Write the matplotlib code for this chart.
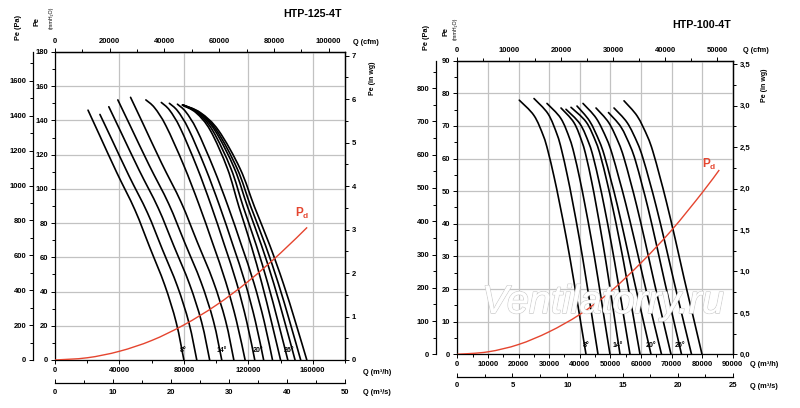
import matplotlib
matplotlib.use("Agg")
import matplotlib.pyplot as plt
import matplotlib.patheffects as pe
from matplotlib.path import Path
from matplotlib.patches import PathPatch
from matplotlib.ticker import MultipleLocator, FuncFormatter

plt.rcParams['font.family'] = ['Liberation Sans', 'DejaVu Sans']
plt.rcParams['font.weight'] = 'bold'
plt.rcParams['mathtext.fontset'] = 'custom'
plt.rcParams['mathtext.rm'] = 'Liberation Sans'

MM_PA = 9.80665     # Pa per mmH2O
MM_INWG = 25.4      # mmH2O per in wg
CFM = 1.699         # m3/h per cfm
M3S = 3600.0        # m3/h per m3/s

# ---------------- HTP-125-4T (Q m3/h, Pe mmH2O) ----------------
q125 = [
    [20500, 27640, 38350, 49660, 58880, 68100, 75240, 80000],
    [27900, 35110, 45930, 57350, 66660, 75980, 83190, 88000],
    [33400, 40910, 52180, 64070, 73780, 83480, 90990, 96000],
    [39000, 46740, 58350, 70610, 80600, 90600, 98340, 103500],
    [46900, 54590, 66130, 78310, 88240, 98180, 105870, 111000],
    [56400, 61820, 68900, 79810, 89230, 97800, 105990, 112640, 118000],
    [66000, 71100, 77770, 88040, 96910, 104980, 112690, 118950, 124000],
    [71000, 76150, 82880, 93230, 102180, 110310, 118090, 124410, 129500],
    [76000, 81190, 87980, 98420, 107450, 115650, 123500, 129870, 135000],
    [79000, 87540, 96450, 107060, 114200, 121700, 128410, 134330, 140000],
    [79200, 88340, 97880, 109240, 116880, 124910, 132090, 138430, 144500],
    [79400, 89140, 99310, 111420, 119560, 128120, 135780, 142530, 149000],
    [79500, 89720, 100380, 113080, 121620, 130600, 138630, 145710, 152500],
    [79600, 90340, 101540, 114880, 123860, 133290, 141730, 149170, 156300],
]
pe125 = [
    [146, 131.4, 109.5, 87.6, 65.7, 43.8, 21.9, 0],
    [143.5, 129.2, 107.6, 86.1, 64.6, 43.1, 21.5, 0],
    [148, 133.2, 111, 88.8, 66.6, 44.4, 22.2, 0],
    [152, 136.8, 114, 91.2, 68.4, 45.6, 22.8, 0],
    [153.5, 138.2, 115.1, 92.1, 69.1, 46.1, 23.0, 0],
    [152, 147.4, 136.8, 114, 91.2, 68.4, 45.6, 22.8, 0],
    [150.5, 146.0, 135.5, 112.9, 90.3, 67.7, 45.2, 22.6, 0],
    [150, 145.5, 135, 112.5, 90, 67.5, 45, 22.5, 0],
    [149.5, 145.0, 134.6, 112.1, 89.7, 67.3, 44.9, 22.4, 0],
    [149, 144.5, 134.1, 111.8, 89.4, 67.1, 44.7, 22.4, 0],
    [149, 144.5, 134.1, 111.8, 89.4, 67.1, 44.7, 22.4, 0],
    [149, 144.5, 134.1, 111.8, 89.4, 67.1, 44.7, 22.4, 0],
    [149, 144.5, 134.1, 111.8, 89.4, 67.1, 44.7, 22.4, 0],
    [149, 144.5, 134.1, 111.8, 89.4, 67.1, 44.7, 22.4, 0],
]
pd125_q = [0, 20000, 40000, 60000, 80000, 100000, 120000, 140000, 156500]
pd125_pe = [0, 1.3, 5.1, 11.4, 20.5, 32, 46, 62.5, 77.5]
ang125_q = [79600, 103500, 125700, 145300]
ang125_pe = [5.8, 5.8, 5.8, 5.8]
ang_txt = ['8°', '14°', '20°', '26°']

# ---------------- HTP-100-4T ----------------
q100 = [
    [20260, 25060, 28110, 29630, 31600, 33340, 35740, 37920, 39990, 42060],
    [25070, 29670, 32600, 34060, 35940, 37620, 39920, 42010, 43990, 45980],
    [29310, 33840, 36720, 38160, 40020, 41660, 43930, 45990, 47940, 49900],
    [33890, 38130, 40830, 42180, 43920, 45460, 47580, 49510, 51340, 53170],
    [35520, 40120, 43050, 44520, 46400, 48070, 50370, 52470, 54450, 56440],
    [37160, 42120, 45280, 46860, 48890, 50690, 53170, 55430, 57570, 59710],
    [39120, 43230, 46370, 48070, 50240, 52300, 55080, 57740, 60520, 63300],
    [41080, 45440, 48780, 50570, 52880, 55060, 58010, 60830, 63780, 66730],
    [45330, 49500, 52680, 54400, 56600, 58690, 61510, 64200, 67020, 69840],
    [49410, 53470, 56570, 58240, 60390, 62410, 65160, 67780, 70530, 73270],
    [51210, 55520, 58810, 60580, 62860, 65010, 67930, 70710, 73630, 76540],
    [54480, 58810, 62130, 63910, 66210, 68370, 71300, 74110, 77040, 79970],
]
pe100 = [
    [77.9, 73.2, 67.0, 62.3, 54.5, 46.7, 35.1, 23.4, 11.7, 0],
    [78.4, 73.7, 67.4, 62.7, 54.9, 47.0, 35.3, 23.5, 11.8, 0],
    [76.9, 72.3, 66.1, 61.5, 53.8, 46.1, 34.6, 23.1, 11.5, 0],
    [75.5, 71.0, 64.9, 60.4, 52.9, 45.3, 34.0, 22.7, 11.3, 0],
    [75.1, 70.6, 64.6, 60.1, 52.6, 45.1, 33.8, 22.5, 11.3, 0],
    [75.7, 71.2, 65.1, 60.6, 53.0, 45.4, 34.1, 22.7, 11.4, 0],
    [76.1, 71.5, 65.4, 60.9, 53.3, 45.7, 34.2, 22.8, 11.4, 0],
    [76.9, 72.3, 66.1, 61.5, 53.8, 46.1, 34.6, 23.1, 11.5, 0],
    [75.5, 71.0, 64.9, 60.4, 52.9, 45.3, 34.0, 22.7, 11.3, 0],
    [74.1, 69.7, 63.7, 59.3, 51.9, 44.5, 33.3, 22.2, 11.1, 0],
    [75.5, 71.0, 64.9, 60.4, 52.9, 45.3, 34.0, 22.7, 11.3, 0],
    [77.7, 73.0, 66.8, 62.2, 54.4, 46.6, 35.0, 23.3, 11.7, 0],
]
pd100_q = [0, 10000, 20000, 30000, 40000, 50000, 60000, 70000, 80000, 85600]
pd100_pe = [0, 0.75, 3.0, 6.9, 12.2, 19.2, 28.0, 38.0, 49.5, 56.5]
ang100_q = [41960, 52290, 63200, 72780]
ang100_pe = [2.85, 2.85, 2.85, 2.85]

RED = '#e5452f'
GRID = '#c2c2c2'
FS = 5.5

fig = plt.figure(figsize=(8, 4.08), dpi=100)


def fpos(x, y):
    return x / 800, 1 - y / 408


def intfmt(v, p):
    return '%d' % round(v)


def commafmt(v, p):
    return ('%.1f' % v).replace('.', ',')


def smooth_path(q, p):
    # bezier segments through the read points (Catmull-Rom handles)
    pts = list(zip(q, p))
    n = len(pts)
    verts = [pts[0]]
    codes = [Path.MOVETO]
    for i in range(n - 1):
        a = pts[i - 1] if i > 0 else pts[i]
        b = pts[i]
        c = pts[i + 1]
        d = pts[i + 2] if i + 2 < n else pts[i + 1]
        c1 = (b[0] + (c[0] - a[0]) / 6, b[1] + (c[1] - a[1]) / 6)
        c2 = (c[0] - (d[0] - b[0]) / 6, c[1] - (d[1] - b[1]) / 6)
        verts += [c1, c2, c]
        codes += [Path.CURVE4] * 3
    return Path(verts, codes)


def panel(x0, x1, y0, y1, qmax, pmax, curves_q, curves_pe, pdq, pdpe,
          angq, angpe, pdpos, st, pa_loc, s_loc, wgfmt):
    ax = fig.add_axes([x0 / 800, 1 - y1 / 408, (x1 - x0) / 800, (y1 - y0) / 408])
    ax.set_xlim(0, qmax)
    ax.set_ylim(0, pmax)
    ax.xaxis.set_major_locator(MultipleLocator(st['q'][0]))
    ax.xaxis.set_minor_locator(MultipleLocator(st['q'][1]))
    ax.yaxis.set_major_locator(MultipleLocator(st['p'][0]))
    ax.yaxis.set_minor_locator(MultipleLocator(st['p'][1]))
    ax.xaxis.set_major_formatter(FuncFormatter(intfmt))
    ax.yaxis.set_major_formatter(FuncFormatter(intfmt))
    ax.grid(True, which='major', color=GRID, lw=0.9)
    ax.set_axisbelow(True)
    ax.tick_params(which='both', direction='out', labelsize=FS, pad=2,
                   top=False, right=False, width=0.7)
    ax.tick_params(which='major', length=3)
    ax.tick_params(which='minor', length=2)
    for s in ax.spines.values():
        s.set_linewidth(0.9)

    for q, p in zip(curves_q, curves_pe):
        ax.add_patch(PathPatch(smooth_path(q, p), fill=False, edgecolor='black',
                               lw=1.2, capstyle='round', zorder=3))
    ax.add_patch(PathPatch(smooth_path(pdq, pdpe), fill=False, edgecolor=RED,
                           lw=1.0, zorder=4))
    for q, p, t in zip(angq, angpe, ang_txt):
        ax.text(q, p, t, fontsize=5, ha='center', va='center', zorder=5)
    ax.text(pdpos[0], pdpos[1], r'$\mathrm{P_d}$', color=RED, fontsize=8.5,
            ha='center', va='center', zorder=5)

    # Pa axis (outer left)
    pa = ax.secondary_yaxis(pa_loc, functions=(lambda y: y * MM_PA, lambda y: y / MM_PA))
    pa.yaxis.set_major_locator(MultipleLocator(st['pa'][0]))
    pa.yaxis.set_minor_locator(MultipleLocator(st['pa'][1]))
    pa.yaxis.set_major_formatter(FuncFormatter(intfmt))
    # in wg axis (right)
    wg = ax.secondary_yaxis('right', functions=(lambda y: y / MM_INWG, lambda y: y * MM_INWG))
    wg.yaxis.set_major_locator(MultipleLocator(st['wg'][0]))
    wg.yaxis.set_minor_locator(MultipleLocator(st['wg'][1]))
    wg.yaxis.set_major_formatter(FuncFormatter(wgfmt))
    # cfm axis (top)
    cf = ax.secondary_xaxis('top', functions=(lambda x: x / CFM, lambda x: x * CFM))
    cf.xaxis.set_major_locator(MultipleLocator(st['cfm'][0]))
    cf.xaxis.set_minor_locator(MultipleLocator(st['cfm'][1]))
    cf.xaxis.set_major_formatter(FuncFormatter(intfmt))
    # m3/s axis (below)
    ms = ax.secondary_xaxis(s_loc, functions=(lambda x: x / M3S, lambda x: x * M3S))
    ms.xaxis.set_major_locator(MultipleLocator(st['s'][0]))
    ms.xaxis.set_minor_locator(MultipleLocator(st['s'][1]))
    ms.xaxis.set_major_formatter(FuncFormatter(intfmt))
    for sec in (pa, wg, cf):
        sec.tick_params(which='both', direction='out', labelsize=FS, pad=2, width=0.7)
        sec.tick_params(which='major', length=3)
        sec.tick_params(which='minor', length=2)
        for s in sec.spines.values():
            s.set_linewidth(0.9)
    ms.tick_params(which='both', direction='in', labelsize=FS, pad=4, width=0.7)
    ms.tick_params(which='major', length=3)
    ms.tick_params(which='minor', length=2)
    for s in ms.spines.values():
        s.set_linewidth(0.9)
    return ax


panel(55, 345, 52, 360, 180000, 180, q125, pe125, pd125_q, pd125_pe,
      ang125_q, ang125_pe, (153600, 85.7),
      {'q': (40000, 20000), 'p': (20, 10), 'pa': (200, 100), 'wg': (1, 0.5),
       'cfm': (20000, 10000), 's': (10, 5)}, -0.075, -0.076, intfmt)

panel(457.3, 732.7, 60.7, 354.3, 90000, 90, q100, pe100, pd100_q, pd100_pe,
      ang100_q, ang100_pe, (82350, 58.3),
      {'q': (10000, 5000), 'p': (10, 5), 'pa': (100, 50), 'wg': (0.5, 0.25),
       'cfm': (10000, 5000), 's': (5, 2.5)}, -0.077, -0.076, commafmt)

# titles and axis captions
for (x, y), t in [((312, 14), 'HTP-125-4T'), ((702, 25), 'HTP-100-4T')]:
    fig.text(*fpos(x, y), t, fontsize=7.7, ha='center', va='center')

for xp, yp, xe, ye, xm, ym in [(18, 27, 37, 21, 51, 18), (427, 37, 446, 31, 455.5, 29)]:
    fig.text(*fpos(xp, yp), 'Pe (Pa)', fontsize=5.3, rotation=90, ha='center', va='center')
    fig.text(*fpos(xe, ye), 'Pe', fontsize=5.3, rotation=90, ha='center', va='center')
    fig.text(*fpos(xm, ym), '(mmH₂O)', fontsize=3.8, fontweight='normal',
             rotation=90, ha='center', va='center')

for x, y, t in [(353, 42, 'Q (cfm)'), (363, 373, 'Q (m³/h)'), (363, 393, 'Q (m³/s)'),
                (743, 51, 'Q (cfm)'), (750, 365, 'Q (m³/h)'), (750, 387, 'Q (m³/s)')]:
    fig.text(*fpos(x, y), t, fontsize=5.3, ha='left', va='center')

for x, y in [(373, 78), (765, 85)]:
    fig.text(*fpos(x, y), 'Pe (in wg)', fontsize=5.0, rotation=90, ha='center', va='center')

# watermark
wm = fig.text(*fpos(603, 302), 'Ventilatorry.ru', fontsize=28.5, style='italic',
              fontweight='normal', color='white', ha='center', va='center', zorder=2)
wm.set_path_effects([pe.withStroke(linewidth=1.1, foreground='#cdcdcd'), pe.Normal()])

fig.savefig('out.png', dpi=100, facecolor='white')
